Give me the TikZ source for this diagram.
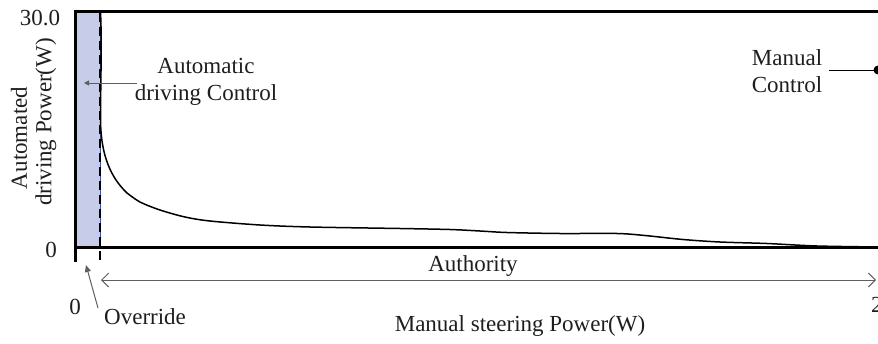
\documentclass[tikz,border=0pt]{standalone}
\usepackage{fontspec}
\setmainfont{Liberation Serif}
\usetikzlibrary{arrows.meta}
\definecolor{shade}{RGB}{199,205,232}
\definecolor{shadeedge}{RGB}{60,82,150}
\definecolor{txt}{RGB}{30,30,30}
\definecolor{pointer}{RGB}{95,95,95}
\tikzset{
  lbl/.style={font=\fontsize{23}{27}\selectfont, text=txt, inner sep=0pt},
  axisline/.style={line width=3pt, black},
  pointerline/.style={draw=pointer, line width=1pt},
}
\begin{document}
\begin{tikzpicture}[x=1pt,y=-1pt]
\useasboundingbox (0,0) rectangle (878,343);

% shaded automatic-control band
\filldraw[fill=shade, draw=shadeedge, line width=0.8pt] (76,12) rectangle (100,246);

% frame and axes
\draw[axisline] (75,11) -- (880,11);
\draw[axisline] (75,9.5) -- (75,262);
\draw[axisline] (75,247) -- (880,247);

% override boundary
\draw[black, line width=2.2pt, dash pattern=on 9pt off 5pt] (100,13) -- (100,263);

% power curve: steep drop along the boundary, then a long flat tail
\draw[black, line width=1.5pt, line join=round]
  (100.5,12) .. controls (102,40) and (100.5,90) .. (100.5,118)
  .. controls (100.5,150) and (108,175) .. (127,193)
  plot[smooth, tension=0.5] coordinates {(127,193) (140,202) (160,210)
   (185,217) (210,221) (260,225) (310,227) (400,228.5) (450,229.5) (480,231)
   (507,232.5) (560,233.5) (617,233.5) (645,235.5) (683,239.5) (720,242) (767,243.5)
   (817,246) (880,247)};

% tick labels
\node[lbl] (ymax) at (40,18) {30.0};
\node[lbl] (yzero) at (51,250) {0};
\node[lbl] (xzero) at (75,307) {0};
\node[lbl, anchor=west] (xmax) at (871,305) {2};

% axis titles
\node[lbl, rotate=90] (ytitleA) at (19,138) {Automated};
\node[lbl, rotate=90] (ytitleB) at (46,122) {driving Power(W)};
\node[lbl] (xtitle) at (520,326) {Manual steering Power(W)};

% automatic driving control
\node[lbl, align=center] (auto) at (206,82) {Automatic\\driving Control};
\coordinate (autotip) at (84,83);
\draw[pointerline, -{Triangle[length=5pt,width=5pt]}] (137,83) -- (autotip);

% manual control
\node[lbl, align=center] (manual) at (787,71) {Manual\\Control};
\coordinate (manualend) at (878,70);
\draw[black, line width=1pt] (829,70) -- (manualend);
\fill[black] (manualend) circle (4.5pt);

% authority span
\node[lbl] (auth) at (473,266) {Authority};
\coordinate (authL) at (101,280);
\coordinate (authR) at (876,280);
\draw[pointerline, {Straight Barb[length=7pt,width=14pt]}-{Straight Barb[length=7pt,width=14pt]}] (authL) -- (authR);

% override
\node[lbl, anchor=west] (over) at (104,317) {Override};
\coordinate (overtip) at (86,265);
\draw[pointerline, -{Triangle[length=7pt,width=6pt]}] (98,308) -- (overtip);
\end{tikzpicture}
\end{document}
